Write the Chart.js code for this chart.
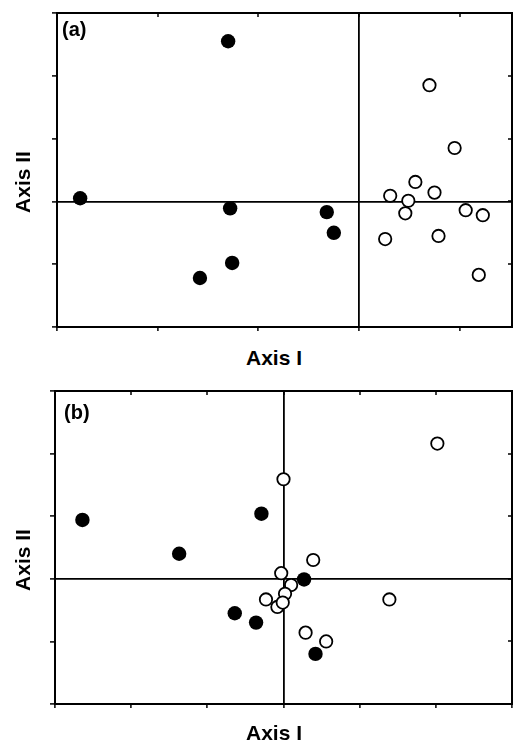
<!DOCTYPE html>
<html><head><meta charset="utf-8">
<script src="https://cdn.jsdelivr.net/npm/chart.js@4.4.1/dist/chart.umd.min.js"></script>
<style>
html,body{margin:0;padding:0;background:#fff;overflow:hidden;width:513px;height:742px;}
canvas{position:absolute;left:0;}
.t{position:absolute;font-family:"Liberation Sans",Arial,sans-serif;font-weight:bold;color:#000;white-space:nowrap;}
</style></head><body>
<canvas id="ca" width="520" height="345" style="top:0px"></canvas>
<canvas id="cb" width="520" height="352" style="top:370px"></canvas>
<div class="t" style="left:62px;top:19px;font-size:20px;line-height:20px">(a)</div>
<div class="t" style="left:64px;top:402px;font-size:20px;line-height:20px">(b)</div>
<div class="t" style="left:246px;top:347px;font-size:21px;line-height:21px">Axis I</div>
<div class="t" style="left:246px;top:722px;font-size:21px;line-height:21px">Axis I</div>
<div class="t" style="left:21.5px;top:182px;font-size:21px;line-height:21px;transform:translate(-50%,-50%) rotate(-90deg)">Axis II</div>
<div class="t" style="left:21.5px;top:560px;font-size:21px;line-height:21px;transform:translate(-50%,-50%) rotate(-90deg)">Axis II</div>
<script>
// Panel (a)
const aFilledX = [-1.30, -2.77, -1.28, -1.26, -1.58, -0.32, -0.25];
const aFilledY = [ 2.55,  0.05, -0.11, -0.98, -1.22, -0.17, -0.50];
const aOpenX = [0.70, 0.95, 0.56, 0.75, 0.31, 0.49, 0.46, 1.06, 1.23, 0.26, 0.79, 1.19];
const aOpenY = [1.85, 0.85, 0.31, 0.14, 0.09, 0.01, -0.19, -0.14, -0.22, -0.60, -0.55, -1.17];
// Panel (b)
const bFilledX = [-2.64, -1.37, -0.64, -0.29, -0.36, 0.27, 0.42];
const bFilledY = [ 0.94,  0.40, -0.55,  1.04, -0.70, -0.01, -1.20];
const bOpenX = [2.02, 0.00, 0.39, -0.03, 0.10, 0.02, -0.23, -0.08, -0.01, 1.39, 0.29, 0.56];
const bOpenY = [2.16, 1.59, 0.30, 0.09, -0.10, -0.24, -0.33, -0.45, -0.38, -0.33, -0.86, -1.00];
// Axis ranges
const aXRange = [-3, 1.52];
const bXRange = [-3, 3];
const yRange = [-2, 3];

const pts = (xs, ys) => xs.map((x, i) => ({x, y: ys[i]}));

const boxPlugin = {
  id: 'box',
  afterDraw(chart) {
    const {ctx, chartArea: {left, right, top, bottom}, scales: {x, y}} = chart;
    ctx.save();
    ctx.strokeStyle = '#000';
    ctx.lineWidth = 2;
    ctx.beginPath();
    ctx.moveTo(left - 1, top);
    ctx.lineTo(right, top);
    ctx.lineTo(right, bottom + 1);
    ctx.stroke();
    ctx.lineWidth = 1.5;
    ctx.beginPath();
    x.ticks.forEach(t => {
      const px = Math.round(x.getPixelForValue(t.value));
      ctx.moveTo(px, top); ctx.lineTo(px, top + 4);
    });
    y.ticks.forEach(t => {
      const py = Math.round(y.getPixelForValue(t.value));
      ctx.moveTo(right, py); ctx.lineTo(right - 4, py);
    });
    ctx.stroke();
    ctx.restore();
  }
};

function makeChart(id, filled, open, xr, pad, yW) {
  const zeroColor = c => (c.tick && c.tick.value === 0) ? '#000' : 'rgba(0,0,0,0)';
  return new Chart(document.getElementById(id), {
    type: 'scatter',
    data: {
      datasets: [
        {data: filled, backgroundColor: '#000', borderColor: '#000', borderWidth: 0,
         pointRadius: 7.2, pointHoverRadius: 7.2},
        {data: open, backgroundColor: '#fff', borderColor: '#000', borderWidth: 1.8,
         pointRadius: 6.2, pointHoverRadius: 6.2}
      ]
    },
    options: {
      responsive: false, animation: false, devicePixelRatio: 1,
      layout: {padding: pad},
      plugins: {legend: {display: false}, tooltip: {enabled: false}},
      events: [],
      scales: {
        x: {
          type: 'linear', min: xr[0], max: xr[1],
          ticks: {display: false, stepSize: 1, includeBounds: false},
          grid: {color: zeroColor, lineWidth: 1.8, drawTicks: true, tickLength: 4,
                 tickColor: '#000', tickWidth: 1.5},
          border: {display: true, color: '#000', width: 2},
          afterFit: s => { s.height = 18; }
        },
        y: {
          type: 'linear', min: yRange[0], max: yRange[1],
          ticks: {display: false, stepSize: 1},
          grid: {color: zeroColor, lineWidth: 1.8, drawTicks: true, tickLength: 5,
                 tickColor: '#000', tickWidth: 1.5},
          border: {display: true, color: '#000', width: 2},
          afterFit: s => { s.width = yW; }
        }
      }
    },
    plugins: [boxPlugin]
  });
}

makeChart('ca', pts(aFilledX, aFilledY), pts(aOpenX, aOpenY), aXRange, {left: 0, top: 13, right: 6, bottom: 0}, 57);
makeChart('cb', pts(bFilledX, bFilledY), pts(bOpenX, bOpenY), bXRange, {left: 0, top: 21, right: 6, bottom: 0}, 55);
</script>
</body></html>
